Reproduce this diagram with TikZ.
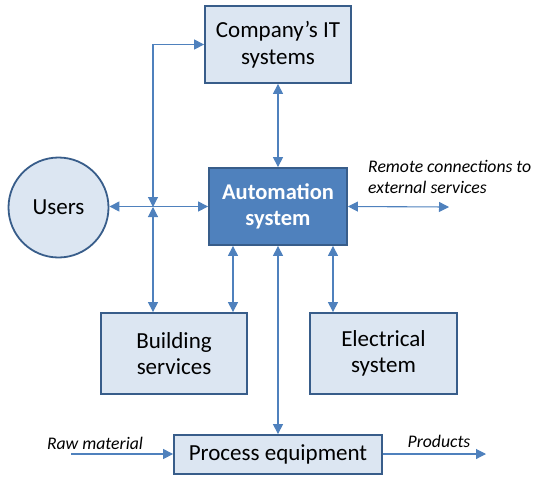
\documentclass[tikz,border=0pt]{standalone}
\usepackage{fontspec}
\setmainfont{Carlito}
\usetikzlibrary{arrows.meta}
\definecolor{boxfill}{HTML}{DCE6F2}
\definecolor{boxline}{HTML}{385D8A}
\definecolor{linkc}{HTML}{4F81BD}
\begin{document}
\begin{tikzpicture}[x=1pt,y=-1pt,
  lightbox/.style={draw=boxline,line width=1.8pt,fill=boxfill,inner sep=0pt,align=center,
    font=\fontsize{23}{26.5}\selectfont},
  mainbox/.style={draw=boxline,line width=1.8pt,fill=linkc,inner sep=0pt,align=center,
    text=white,font=\fontsize{22.5}{26.5}\selectfont\bfseries},
  link/.style={draw=linkc,line width=1.1pt,{Triangle[length=10pt,width=10pt]}-{Triangle[length=10pt,width=10pt]}},
  onelink/.style={draw=linkc,line width=1.1pt,-{Triangle[length=10pt,width=10pt]}},
  lbl/.style={font=\fontsize{17.7}{21}\selectfont\itshape,inner sep=0pt,align=left}]
\useasboundingbox (0,0) rectangle (534,477);
\node[lightbox,minimum width=146pt,minimum height=77pt] (it) at (278,44.5) {Company’s IT\\systems};
\node[mainbox,minimum width=138pt,minimum height=77pt] (auto) at (278,206.5) {Automation\\system};
\node[lightbox,circle,minimum size=100pt] (users) at (58.5,207.5) {Users};
\node[lightbox,minimum width=146pt,minimum height=81pt] (bs) at (174,353.5) {Building\\services};
\node[lightbox,minimum width=147pt,minimum height=81pt] (el) at (383.5,353.5) {Electrical\\system};
\node[lightbox,minimum width=208pt,minimum height=39pt] (pe) at (278,454.5) {Process equipment};
\node[lbl,anchor=west] (remote) at (368,177) {Remote connections to\\external services};
\node[lbl] (raw) at (95,443) {Raw material};
\node[lbl] (prod) at (439,441) {Products};
\coordinate (junc) at (153,207);
\coordinate (ext) at (449,207);
\coordinate (rawstart) at (71,454);
\coordinate (prodend) at (486,454);
\coordinate (c1) at (233,0);
\coordinate (c3) at (333,0);
% connectors
\draw[link] (junc) |- (it.west);
\draw[link] (junc) -- (bs.north -| junc);
\draw[link] (users.east |- auto.west) -- (auto.west);
\draw[link] (auto.east) -- (ext);
\draw[link] (it.south) -- (auto.north);
\draw[link] (auto.south -| c1) -- (bs.north -| c1);
\draw[link] (auto.south) -- (pe.north);
\draw[link] (auto.south -| c3) -- (el.north -| c3);
\draw[onelink] (rawstart) -- (pe.west |- rawstart);
\draw[onelink] (pe.east |- prodend) -- (prodend);
\end{tikzpicture}
\end{document}
